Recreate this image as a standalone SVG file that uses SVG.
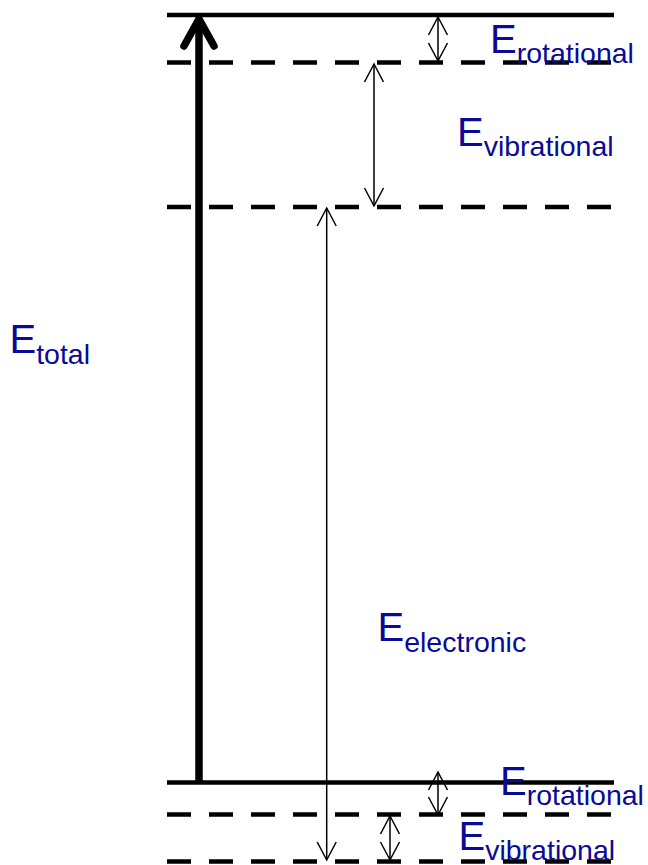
<svg xmlns="http://www.w3.org/2000/svg" width="648" height="865" viewBox="0 0 648 865">
<style>
.solid{stroke:#000;stroke-width:4.5;fill:none}
.dash{stroke:#000;stroke-width:4.5;stroke-dasharray:24 18;fill:none}
.thin{stroke:#000;stroke-width:1.5;fill:none}
.lbl{font-family:"Liberation Sans",Arial,sans-serif;font-size:40px;fill:#0a0a98}
.sub{font-size:28.5px}
</style>
<defs>
<marker id="open" viewBox="-20 -12 22 24" markerWidth="22" markerHeight="24" markerUnits="userSpaceOnUse" orient="auto-start-reverse" refX="0" refY="0">
<path d="M-18,-9.5 L0,0 L-18,9.5" stroke="#000" stroke-width="1.5" fill="none"/>
</marker>
</defs>
<rect width="648" height="865" fill="#fff"/>
<g id="levels">
<line id="upper-ground" class="solid" x1="167" y1="15" x2="614" y2="15"/>
<line id="upper-rot" class="dash" x1="167" y1="62.5" x2="611" y2="62.5"/>
<line id="upper-vib" class="dash" x1="167" y1="207" x2="611" y2="207"/>
<line id="lower-ground" class="solid" x1="167" y1="782.5" x2="614" y2="782.5"/>
<line id="lower-rot" class="dash" x1="167" y1="814.5" x2="611" y2="814.5"/>
<line id="lower-vib" class="dash" x1="167" y1="861.5" x2="611" y2="861.5"/>
</g>
<g id="connectors">
<line id="total-arrow" x1="199" y1="782" x2="199" y2="20" stroke="#000" stroke-width="7.5"/>
<path d="M184,46 L199,19 L214,46" stroke="#000" stroke-width="7.5" fill="none" stroke-linecap="round" stroke-linejoin="round"/>
<line class="thin" x1="438" y1="17" x2="438" y2="61" marker-start="url(#open)" marker-end="url(#open)"/>
<line class="thin" x1="374" y1="64" x2="374" y2="206" marker-start="url(#open)" marker-end="url(#open)"/>
<line class="thin" x1="326.7" y1="208" x2="326.7" y2="860" marker-start="url(#open)" marker-end="url(#open)"/>
<line class="thin" x1="438" y1="772" x2="438" y2="815" marker-start="url(#open)" marker-end="url(#open)"/>
<line class="thin" x1="390" y1="816" x2="390" y2="860" marker-start="url(#open)" marker-end="url(#open)"/>
</g>
<g id="label-total"><text class="lbl" x="9.5" y="352.7">E<tspan class="sub" dy="11">total</tspan></text></g>
<g id="label-rot-top"><text class="lbl" x="490" y="53.3">E<tspan class="sub" dy="10">rotational</tspan></text></g>
<g id="label-vib-top"><text class="lbl" x="457" y="146">E<tspan class="sub" dy="9.5">vibrational</tspan></text></g>
<g id="label-electronic"><text class="lbl" x="377.5" y="640.5">E<tspan class="sub" dy="11">electronic</tspan></text></g>
<g id="label-rot-bottom"><text class="lbl" x="500" y="795">E<tspan class="sub" dy="10">rotational</tspan></text></g>
<g id="label-vib-bottom"><text class="lbl" x="458.5" y="849.5">E<tspan class="sub" dy="10.5">vibrational</tspan></text></g>
</svg>
